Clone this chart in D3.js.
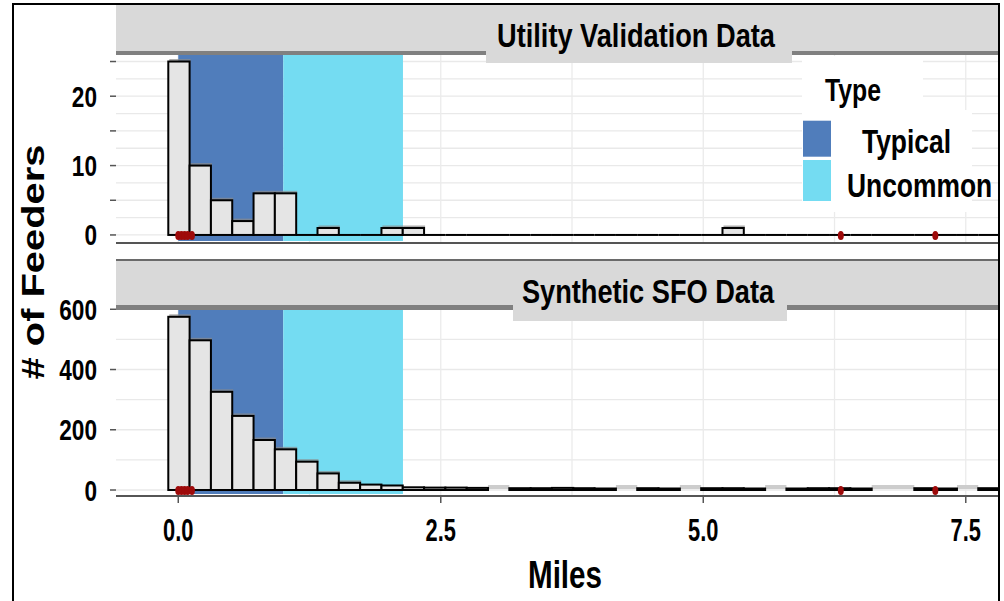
<!DOCTYPE html>
<html>
<head>
<meta charset="utf-8">
<script src="https://cdn.jsdelivr.net/npm/d3@7"></script>
<style>
  body { margin: 0; background: #fff; }
  svg { display: block; }
</style>
</head>
<body>
<svg id="chart" width="1004" height="601"></svg>
<script>
// ---- data -------------------------------------------------------------
const panelTitles = ["Utility Validation Data", "Synthetic SFO Data"];

// histogram bins (miles): left edge of first bin and bin width
const binStart = -0.095;
const binWidth = 0.203;

// feeder counts per bin
const utilityCounts = [25, 10, 5, 2, 6, 6, 0, 1, 0, 0, 1, 1, 0, 0, 0, 0, 0, 0, 0, 0,
                       0, 0, 0, 0, 0, 0, 1, 0, 0, 0, 0, 0, 0, 0, 0, 0, 0, 0, 0, 0];
const sfoCounts = [575, 497, 326, 246, 166, 135, 94, 55, 24, 18, 15, 9, 8, 8, 7, 0, 6, 6, 7, 6,
                   5, 0, 6, 5, 0, 6, 6, 5, 0, 5, 6, 6, 5, 0, 0, 6, 5, 0, 6, 6];

// feeder length classes
const typeNames = ["Typical", "Uncommon"];
const typeFrom = [0.0, 1.0];
const typeTo = [1.0, 2.14];

// marked feeder lengths (miles)
const markerMiles = [0.0, 0.03, 0.06, 0.09, 0.13, 6.31, 7.21];

// axis ticks
const xTicks = [0, 2.5, 5, 7.5];
const xGrid = [0, 1.25, 2.5, 3.75, 5, 6.25, 7.5];
const utilityTicks = [0, 5, 10, 15, 20, 25];
const utilityLabels = [0, 10, 20];
const utilityGrid = [0, 2.5, 5, 7.5, 10, 12.5, 15, 17.5, 20, 22.5, 25];
const sfoTicks = [0, 200, 400, 600];
const sfoLabels = [0, 200, 400, 600];
const sfoGrid = [0, 100, 200, 300, 400, 500, 600];

// ---- layout -------------------------------------------------------------
const svg = d3.select("#chart");
const FONT = "'Liberation Sans', Arial, sans-serif";
const typeColors = ["#507dbb", "#74dcf2"];
const left = 116, right = 1000;

const x = d3.scaleLinear().domain([-0.593, 7.826]).range([left, right]);

const panels = [
  {
    title: panelTitles[0], counts: utilityCounts,
    ticks: utilityTicks, labels: utilityLabels, grid: utilityGrid,
    y: d3.scaleLinear().domain([-1.16, 25.94]).range([243, 55]),
    strip: { top: 5, bottom: 51, lineH: 4, boxL: 486, boxR: 792, boxB: 63, textX: 636, textY: 47, topLine: false },
    emptyStyle: "line", xAxis: false
  },
  {
    title: panelTitles[1], counts: sfoCounts,
    ticks: sfoTicks, labels: sfoLabels, grid: sfoGrid,
    y: d3.scaleLinear().domain([-19.9, 597.6]).range([496, 310]),
    strip: { top: 261, bottom: 305, lineH: 5, boxL: 513, boxR: 787, boxB: 321, textX: 648, textY: 303, topLine: true },
    emptyStyle: "band", xAxis: true
  }
];

function label(g, px, py, str, size, anchor, sx = 0.8, sy = 1) {
  return g.append("text")
    .attr("transform", `translate(${px},${py}) scale(${sx},${sy})`)
    .attr("text-anchor", anchor)
    .style("font-family", FONT)
    .style("font-weight", "bold")
    .style("font-size", size + "px")
    .attr("fill", "#000")
    .text(str);
}

const defs = svg.append("defs");

panels.forEach((p, i) => {
  const y = p.y;
  const [yBot, yTop] = y.range();
  const g = svg.append("g");

  defs.append("clipPath").attr("id", "clip" + i)
    .append("rect").attr("x", left).attr("y", yTop).attr("width", right - left).attr("height", yBot - yTop);

  const body = g.append("g").attr("clip-path", `url(#clip${i})`);

  // grid
  body.selectAll(".hg").data(p.grid).join("line")
    .attr("x1", left).attr("x2", right)
    .attr("y1", d => y(d)).attr("y2", d => y(d))
    .attr("stroke", "#e9e9e9").attr("stroke-width", 1.3);
  body.selectAll(".vg").data(xGrid).join("line")
    .attr("x1", d => x(d)).attr("x2", d => x(d))
    .attr("y1", yTop).attr("y2", yBot)
    .attr("stroke", "#ebebeb").attr("stroke-width", 1.3);

  // length-class shading
  body.selectAll(".band").data(typeNames).join("rect")
    .attr("x", (d, k) => x(typeFrom[k]))
    .attr("width", (d, k) => x(typeTo[k]) - x(typeFrom[k]))
    .attr("y", yTop).attr("height", yBot - yTop - 2)
    .attr("fill", (d, k) => typeColors[k]);

  // histogram
  const bins = p.counts.map((c, k) => ({ x0: binStart + k * binWidth, x1: binStart + (k + 1) * binWidth, c }));
  const full = bins.filter(b => b.c > 0);
  const empty = bins.filter(b => b.c === 0);

  if (p.emptyStyle === "line") {
    body.selectAll(".empty").data(empty).join("line")
      .attr("x1", b => x(b.x0)).attr("x2", b => x(b.x1))
      .attr("y1", y(0)).attr("y2", y(0))
      .attr("stroke", "#000").attr("stroke-width", 2);
  } else {
    body.selectAll(".empty").data(empty).join("rect")
      .attr("x", b => x(b.x0)).attr("width", b => x(b.x1) - x(b.x0))
      .attr("y", y(0) - 5).attr("height", 4)
      .attr("fill", "#cdcdcd");
  }

  // soft offset shadow on the bar tops
  body.selectAll(".shadow").data(full.filter(b => y(0) - y(b.c) > 6)).join("rect")
    .attr("x", b => x(b.x0) + 1).attr("width", b => x(b.x1) - x(b.x0))
    .attr("y", b => y(b.c) - 2.5).attr("height", 3)
    .attr("fill", "#8a8a8a").attr("opacity", 0.7);

  body.selectAll(".bar").data(full).join("rect")
    .attr("x", b => x(b.x0)).attr("width", b => x(b.x1) - x(b.x0))
    .attr("y", b => y(b.c)).attr("height", b => y(0) - y(b.c))
    .attr("fill", "#e5e5e5").attr("stroke", "#000").attr("stroke-width", 2);

  // marked lengths
  body.selectAll(".mark").data(markerMiles).join("ellipse")
    .attr("cx", d => x(d)).attr("cy", y(0) + 0.5)
    .attr("rx", 3).attr("ry", 4.5)
    .attr("fill", "#9e0a0a");

  // panel bottom edge
  g.append("line").attr("x1", left).attr("x2", right)
    .attr("y1", yBot).attr("y2", yBot)
    .attr("stroke", "#555").attr("stroke-width", 2);

  // y axis ticks and labels
  g.selectAll(".yt").data(p.ticks).join("line")
    .attr("x1", left - 6).attr("x2", left)
    .attr("y1", d => y(d)).attr("y2", d => y(d))
    .attr("stroke", "#555").attr("stroke-width", 1.5);
  p.labels.forEach(v => label(g, 97, y(v) + 10.5, String(v), 29, "end", 0.78, 1.04));

  // x axis
  if (p.xAxis) {
    g.selectAll(".xt").data(xTicks).join("line")
      .attr("x1", d => x(d)).attr("x2", d => x(d))
      .attr("y1", yBot).attr("y2", yBot + 7)
      .attr("stroke", "#555").attr("stroke-width", 1.5);
    xTicks.forEach(v => label(g, x(v), 541, d3.format(".1f")(v), 28, "middle", 0.78, 1.1));
  }

  // facet strip
  const s = p.strip;
  if (s.topLine) {
    g.append("rect").attr("x", left).attr("y", s.top - 2).attr("width", right - left).attr("height", 2).attr("fill", "#6a6a6a");
  }
  g.append("rect").attr("x", left).attr("y", s.top).attr("width", right - left).attr("height", s.bottom - s.top).attr("fill", "#d9d9d9");
  g.append("rect").attr("x", left).attr("y", s.bottom).attr("width", right - left).attr("height", s.lineH).attr("fill", "#808080");
  g.append("rect").attr("x", s.boxL).attr("y", s.top).attr("width", s.boxR - s.boxL).attr("height", s.boxB - s.top).attr("fill", "#d9d9d9");
  label(g, s.textX, s.textY, p.title, 34, "middle");
});

// axis titles
label(svg, 565, 588, "Miles", 37, "middle", 0.8, 1.05);
svg.append("text")
  .attr("transform", "translate(44,262) rotate(-90) scale(1.247,1)")
  .attr("text-anchor", "middle")
  .style("font-family", FONT).style("font-weight", "bold").style("font-size", "32px")
  .text("# of Feeders");

// legend
const lg = svg.append("g");
lg.append("rect").attr("x", 802).attr("y", 56).attr("width", 121).attr("height", 56).attr("fill", "#fff");
lg.append("rect").attr("x", 802).attr("y", 110).attr("width", 170).attr("height", 102).attr("fill", "#fff");
label(lg, 825, 101, "Type", 31, "start");
const keyTop = [120.7, 160];
const keyBot = [156.7, 201];
const textX = [862, 847];
const textY = [153, 197];
typeNames.forEach((n, k) => {
  lg.append("rect").attr("x", 803).attr("y", keyTop[k]).attr("width", 28).attr("height", keyBot[k] - keyTop[k]).attr("fill", typeColors[k]);
  label(lg, textX[k], textY[k], n, 33, "start");
});

// outer frame
svg.append("rect").attr("x", 13).attr("y", 4).attr("width", 986).attr("height", 640)
  .attr("fill", "none").attr("stroke", "#000").attr("stroke-width", 2);
</script>
</body>
</html>
